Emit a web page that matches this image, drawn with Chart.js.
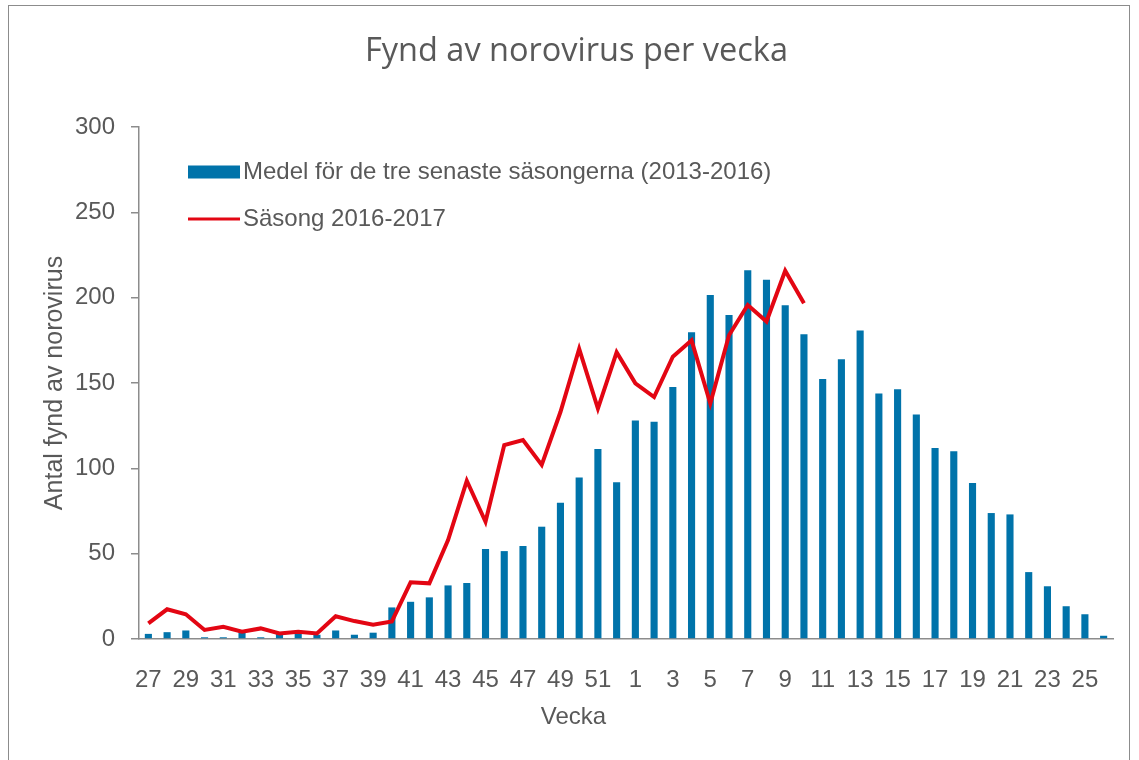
<!DOCTYPE html>
<html>
<head>
<meta charset="utf-8">
<script src="https://cdn.jsdelivr.net/npm/chart.js@4.4.1/dist/chart.umd.min.js"></script>
<style>
    html, body { margin: 0; padding: 0; background: #fff; }
    #wrap { position: relative; width: 1139px; height: 760px; }
    #frame { position: absolute; left: 8px; top: 5px; width: 1122px; height: 800px; border: 1.5px solid #8c8c8c; box-sizing: border-box; pointer-events: none; }
</style>
</head>
<body>
<div id="wrap">
    <canvas id="chart" width="1139" height="760"></canvas>
    <div id="frame"></div>
</div>
<script>
// week numbers, season runs from week 27 to week 26 next year
const weeks = [27, 28, 29, 30, 31, 32, 33, 34, 35, 36, 37, 38, 39, 40, 41, 42, 43, 44, 45, 46, 47, 48, 49, 50, 51, 52,
    1, 2, 3, 4, 5, 6, 7, 8, 9, 10, 11, 12, 13, 14, 15, 16, 17, 18, 19, 20, 21, 22, 23, 24, 25, 26];

// mean of the three latest seasons (2013-2016)
const meanValues = [3, 4, 5, 1, 1, 4, 1, 3, 3.5, 2.5, 5, 2.5, 3.7, 18.5, 21.8, 24.4, 31.4, 32.8, 52.7, 51.5, 54.5, 65.8, 79.9, 94.7, 111.3, 91.8,
    128, 127.3, 147.7, 179.8, 201.5, 189.8, 216, 210.5, 195.5, 178.5, 152.3, 163.9, 180.8, 143.8, 146.4, 131.6, 111.9, 110, 91.4, 73.8, 73, 39.2, 30.9, 19.2, 14.5, 1.9];

// season 2016-2017 (up to week 10)
const seasonValues = [9.2, 17.4, 14.5, 5.3, 7.2, 4.3, 6.2, 3.3, 4.3, 3.3, 13.3, 10.5, 8.4, 10.3, 33.2, 32.6, 58, 92.7, 68.7, 113.6, 116.6, 102, 133, 170, 135, 168,
    149.8, 141.8, 165.4, 175, 138, 178, 195.7, 186, 215.8, 196.7];

const yTicks = [0, 50, 100, 150, 200, 250, 300];

const meanLabel = 'Medel för de tre senaste säsongerna (2013-2016)';
const seasonLabel = 'Säsong 2016-2017';
const xTitle = 'Vecka';

const blue = '#0073AA';
const red = '#E30613';
const textColor = '#595959';
const axisColor = '#8c8c8c';
const tickFont = {family: 'Liberation Sans', size: 24};

// legend inside the plot area, top left, plus the x axis title
const extras = {
    id: 'extras',
    afterDraw(chart) {
        const c = chart.ctx;
        const area = chart.chartArea;
        const x0 = area.left + 49;
        const rows = [area.top + 45, area.top + 92];
        c.save();
        c.font = '24px "Liberation Sans"';
        c.textBaseline = 'middle';
        chart.data.datasets.forEach((ds, i) => {
            const y = rows[i];
            if (ds.type === 'bar') {
                c.fillStyle = ds.backgroundColor;
                c.fillRect(x0, y - 6.5, 52, 13);
            } else {
                c.strokeStyle = ds.borderColor;
                c.lineWidth = 3;
                c.beginPath();
                c.moveTo(x0, y);
                c.lineTo(x0 + 52, y);
                c.stroke();
            }
            c.fillStyle = textColor;
            c.fillText(ds.label, x0 + 55, y);
        });
        c.font = '24px "Liberation Sans"';
        c.textAlign = 'center';
        c.fillText(xTitle, chart.width / 2 + 4, area.bottom + 78);
        c.restore();
    }
};

new Chart(document.getElementById('chart'), {
    data: {
        labels: weeks,
        datasets: [
            {
                type: 'bar',
                label: meanLabel,
                data: meanValues,
                backgroundColor: blue,
                barPercentage: 0.38,
                categoryPercentage: 1.0,
                order: 2
            },
            {
                type: 'line',
                label: seasonLabel,
                data: seasonValues,
                borderColor: red,
                backgroundColor: red,
                borderWidth: 4,
                pointRadius: 0,
                tension: 0,
                order: 1
            }
        ]
    },
    options: {
        responsive: false,
        animation: false,
        layout: {padding: {left: 40, right: 26, top: 0, bottom: 0}},
        plugins: {
            legend: {display: false},
            tooltip: {enabled: false},
            title: {
                display: true,
                text: 'Fynd av norovirus per vecka',
                color: textColor,
                font: {family: 'Open Sans', size: 32.5, weight: 'normal'},
                padding: {top: 32, bottom: 56}
            }
        },
        scales: {
            x: {
                grid: {display: false},
                border: {color: axisColor, width: 1.5},
                ticks: {
                    color: textColor,
                    font: tickFont,
                    autoSkip: false,
                    maxRotation: 0,
                    padding: 19,
                    callback: (v, i) => (i % 2 === 0 ? weeks[i] : '')
                },
                afterFit: s => { s.height = 121; }
            },
            y: {
                min: 0,
                max: 300,
                afterBuildTicks: s => { s.ticks = yTicks.map(v => ({value: v})); },
                grid: {drawOnChartArea: false, color: axisColor, tickLength: 8, lineWidth: 1.5},
                border: {color: axisColor, width: 1.5},
                ticks: {color: textColor, font: tickFont, padding: 16},
                title: {
                    display: true,
                    text: 'Antal fynd av norovirus',
                    color: textColor,
                    font: {family: 'Liberation Sans', size: 25},
                    padding: {top: 0, bottom: 0}
                },
                afterFit: s => { s.width = 99; }
            }
        }
    },
    plugins: [extras]
});
</script>
</body>
</html>
